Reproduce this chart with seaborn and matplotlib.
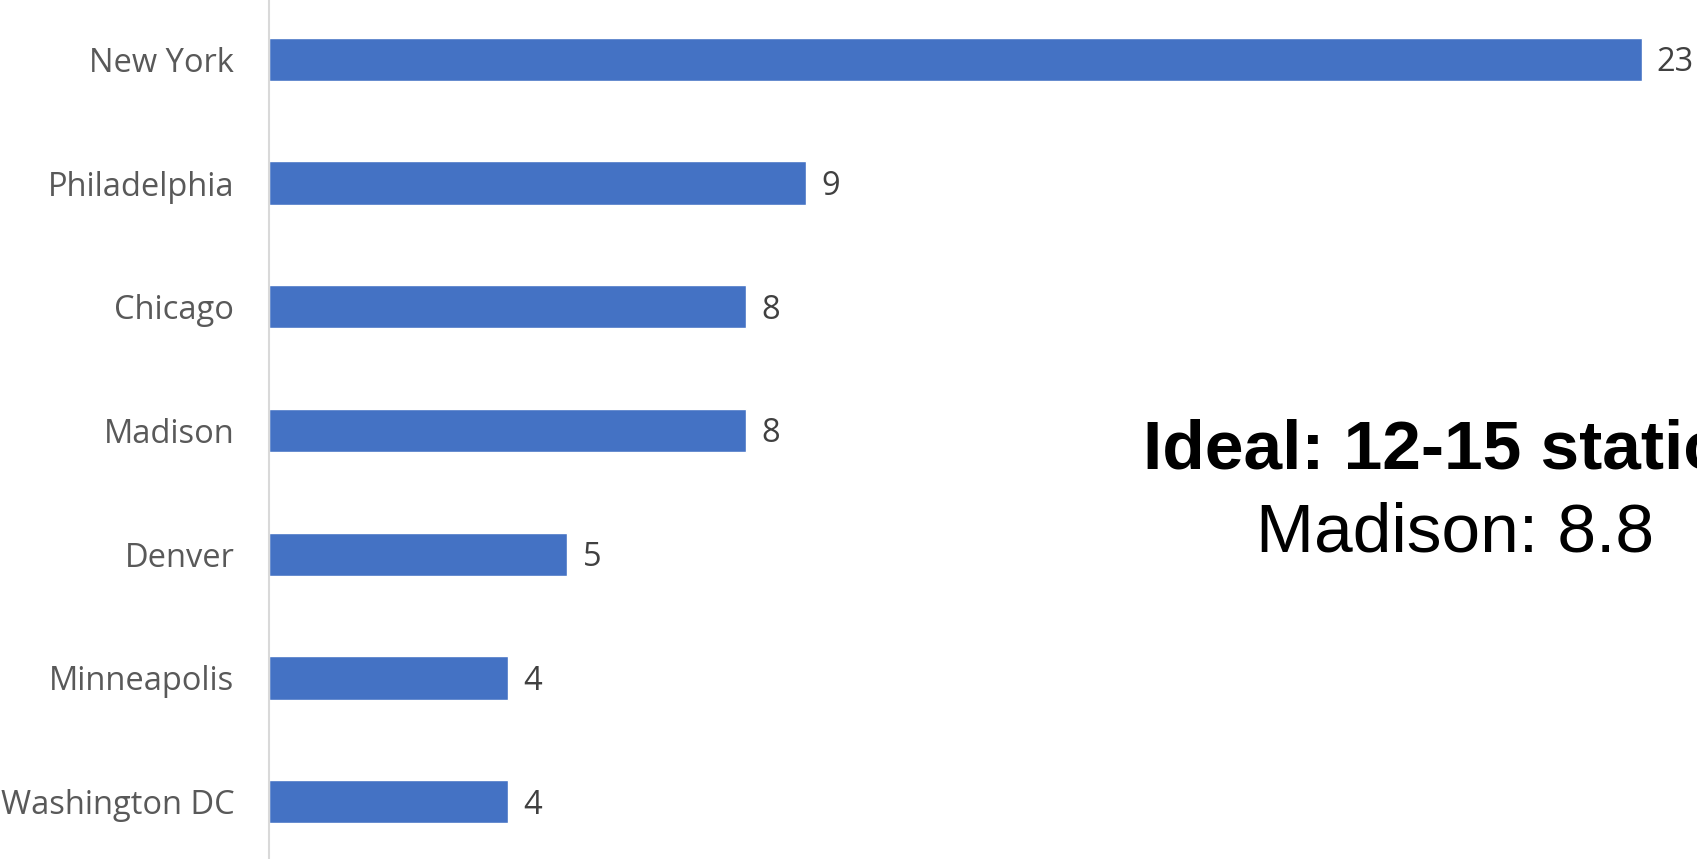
import matplotlib
matplotlib.use("Agg")
import matplotlib.pyplot as plt
import seaborn as sns
import pandas as pd

cities = ["New York", "Philadelphia", "Chicago", "Madison", "Denver", "Minneapolis", "Washington DC"]
stations = [23, 9, 8, 8, 5, 4, 4]
note_bold = "Ideal: 12-15 stations"
note_plain = "Madison: 8.8"

df = pd.DataFrame({"city": cities, "stations": stations})

sns.set_theme(style="white")
plt.rcParams["font.family"] = ["Open Sans", "DejaVu Sans"]

W, H = 1697, 859
fig = plt.figure(figsize=(W / 100, H / 100), dpi=100)
top_px, bot_px = -2.5, 863.5
ax = fig.add_axes([269 / W, 1 - bot_px / H, 1 - 269 / W, (bot_px - top_px) / H])

sns.barplot(data=df, x="stations", y="city", orient="h", color="#4472C4",
            saturation=1, width=0.35, ax=ax)

ax.set_xlim(0, 23.93)
ax.set_ylim(len(cities) - 0.5, -0.5)
ax.set_xlabel("")
ax.set_ylabel("")
ax.set_xticks([])
for s in ["top", "right", "bottom"]:
    ax.spines[s].set_visible(False)
ax.spines["left"].set_color("#d9d9d9")
ax.spines["left"].set_linewidth(1.5)
ax.tick_params(axis="y", length=0, pad=25, labelsize=23.5, labelcolor="#595959")

for cont in ax.containers:
    anns = ax.bar_label(cont, labels=[str(v) for v in stations], padding=11,
                        fontsize=23.5, color="#404040")
    for a in anns:
        a.xyann = (11, -2.5)

fig.text(1143 / W, 1 - 468 / H, note_bold, fontsize=50, fontweight="bold",
         family=["Liberation Sans", "DejaVu Sans"],
         ha="left", va="baseline", color="black")
fig.text(1455 / W, 1 - 551 / H, note_plain, fontsize=50,
         family=["Liberation Sans", "DejaVu Sans"],
         ha="center", va="baseline", color="black")

fig.savefig("out.png", dpi=100)
